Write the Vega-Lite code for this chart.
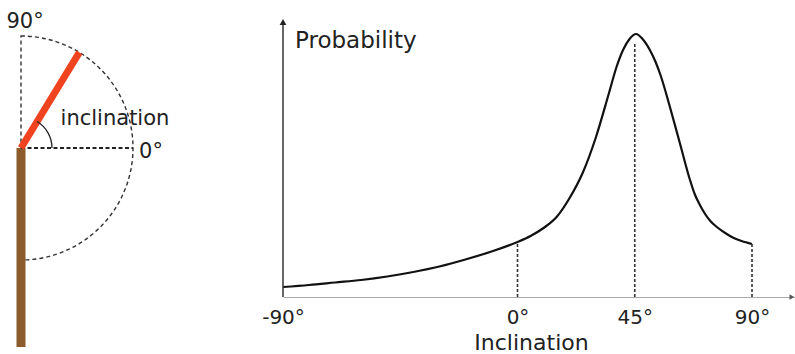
{
  "$schema": "https://vega.github.io/schema/vega-lite/v6.json",
  "padding": 0,
  "background": "white",
  "bounds": "flush",
  "spacing": 13,
  "config": {"view": {"stroke": null}, "font": "DejaVu Sans"},
  "datasets": {
    "origin": [{"x": 0, "y": 0}],
    "branch": [{"x": 0, "y": 0, "x2": 0, "y2": -1.777}],
    "shoot": [{"x": 0, "y": 0, "x2": 0.521, "y2": 0.854}],
    "zeroLine": [{"x": 0, "y": 0, "x2": 1.0, "y2": 0}],
    "leftLabels": [
      {"x": 0.036, "y": 1.071, "label": "90°"},
      {"x": 0.839, "y": 0.205, "label": "inclination"},
      {"x": 1.161, "y": -0.089, "label": "0°"}
    ],
    "curve": [
      {"inclination": -90, "p": 0.10},
      {"inclination": -80, "p": 0.12},
      {"inclination": -70, "p": 0.145},
      {"inclination": -60, "p": 0.17},
      {"inclination": -50, "p": 0.205},
      {"inclination": -40, "p": 0.25},
      {"inclination": -30, "p": 0.305},
      {"inclination": -20, "p": 0.375},
      {"inclination": -10, "p": 0.455},
      {"inclination": 0, "p": 0.55},
      {"inclination": 5, "p": 0.61},
      {"inclination": 10, "p": 0.69},
      {"inclination": 15, "p": 0.80},
      {"inclination": 20, "p": 0.99},
      {"inclination": 25, "p": 1.24},
      {"inclination": 30, "p": 1.59},
      {"inclination": 35, "p": 2.03},
      {"inclination": 38, "p": 2.30},
      {"inclination": 40.5, "p": 2.47},
      {"inclination": 43, "p": 2.58},
      {"inclination": 45.5, "p": 2.63},
      {"inclination": 48, "p": 2.58},
      {"inclination": 51, "p": 2.46},
      {"inclination": 53, "p": 2.35},
      {"inclination": 55, "p": 2.21},
      {"inclination": 58.5, "p": 1.90},
      {"inclination": 62.3, "p": 1.54},
      {"inclination": 66.2, "p": 1.17},
      {"inclination": 68, "p": 1.03},
      {"inclination": 70, "p": 0.92},
      {"inclination": 72, "p": 0.83},
      {"inclination": 74, "p": 0.76},
      {"inclination": 76.5, "p": 0.70},
      {"inclination": 80, "p": 0.635},
      {"inclination": 83, "p": 0.59},
      {"inclination": 86, "p": 0.56},
      {"inclination": 90, "p": 0.53}
    ],
    "drops": [
      {"inclination": 0, "p0": 0, "p": 0.55},
      {"inclination": 45, "p0": 0, "p": 2.54},
      {"inclination": 90, "p0": 0, "p": 0.53}
    ],
    "yAxisLine": [{"inclination": -90, "p": 0, "p2": 2.72}],
    "yArrow": [{"inclination": -90, "p": 2.75}],
    "xArrow": [{"inclination": 105.3, "p": 0}],
    "yTitle": [{"inclination": -85.4, "p": 2.49, "label": "Probability"}]
  },
  "hconcat": [
    {
      "width": 270,
      "height": 354,
      "layer": [
        {
          "data": {"name": "origin"},
          "mark": {"type": "arc", "filled": false, "fill": "none", "stroke": "#333333", "strokeWidth": 1.4, "strokeDash": [4, 3]},
          "encoding": {
            "x": {"field": "x", "type": "quantitative", "scale": {"domain": [-0.1875, 2.2232], "nice": false, "zero": false}, "axis": null},
            "y": {"field": "y", "type": "quantitative", "scale": {"domain": [-1.8393, 1.3214], "nice": false, "zero": false}, "axis": null},
            "theta": {"value": 0},
            "theta2": {"value": 3.14159},
            "radius": {"value": 112},
            "radius2": {"value": 0}
          }
        },
        {
          "data": {"name": "branch"},
          "mark": {"type": "rule", "color": "#8C5C2C", "strokeWidth": 9, "strokeCap": "butt"},
          "encoding": {
            "x": {"field": "x", "type": "quantitative", "scale": {"domain": [-0.1875, 2.2232], "nice": false, "zero": false}, "axis": null},
            "y": {"field": "y", "type": "quantitative", "scale": {"domain": [-1.8393, 1.3214], "nice": false, "zero": false}, "axis": null},
            "x2": {"field": "x2"},
            "y2": {"field": "y2"}
          }
        },
        {
          "data": {"name": "zeroLine"},
          "mark": {"type": "rule", "color": "#222222", "strokeWidth": 1.8, "strokeDash": [4, 2.5]},
          "encoding": {
            "x": {"field": "x", "type": "quantitative", "scale": {"domain": [-0.1875, 2.2232], "nice": false, "zero": false}, "axis": null},
            "y": {"field": "y", "type": "quantitative", "scale": {"domain": [-1.8393, 1.3214], "nice": false, "zero": false}, "axis": null},
            "x2": {"field": "x2"},
            "y2": {"field": "y2"}
          }
        },
        {
          "data": {"name": "shoot"},
          "mark": {"type": "rule", "color": "#F0431F", "strokeWidth": 7, "strokeCap": "butt"},
          "encoding": {
            "x": {"field": "x", "type": "quantitative", "scale": {"domain": [-0.1875, 2.2232], "nice": false, "zero": false}, "axis": null},
            "y": {"field": "y", "type": "quantitative", "scale": {"domain": [-1.8393, 1.3214], "nice": false, "zero": false}, "axis": null},
            "x2": {"field": "x2"},
            "y2": {"field": "y2"}
          }
        },
        {
          "data": {"name": "origin"},
          "mark": {"type": "arc", "filled": false, "fill": "none", "stroke": "#222222", "strokeWidth": 1.3},
          "encoding": {
            "x": {"field": "x", "type": "quantitative", "scale": {"domain": [-0.1875, 2.2232], "nice": false, "zero": false}, "axis": null},
            "y": {"field": "y", "type": "quantitative", "scale": {"domain": [-1.8393, 1.3214], "nice": false, "zero": false}, "axis": null},
            "theta": {"value": 0.548},
            "theta2": {"value": 1.5708},
            "radius": {"value": 31},
            "radius2": {"value": 31}
          }
        },
        {
          "data": {"name": "leftLabels"},
          "mark": {"type": "text", "fontSize": 21, "align": "center", "baseline": "alphabetic", "color": "#222222"},
          "encoding": {
            "x": {"field": "x", "type": "quantitative", "scale": {"domain": [-0.1875, 2.2232], "nice": false, "zero": false}, "axis": null},
            "y": {"field": "y", "type": "quantitative", "scale": {"domain": [-1.8393, 1.3214], "nice": false, "zero": false}, "axis": null},
            "text": {"field": "label"}
          }
        }
      ]
    },
    {
      "width": 512,
      "height": 297,
      "layer": [
        {
          "data": {"name": "curve"},
          "mark": {"type": "line", "color": "#111111", "strokeWidth": 2.2, "interpolate": "monotone"},
          "encoding": {
            "x": {
              "field": "inclination", "type": "quantitative",
              "scale": {"domain": [-90, 106.5], "nice": false, "zero": false},
              "axis": {
                "values": [-90, 0, 45, 90],
                "labelExpr": "datum.value + '°'",
                "labelFlush": false,
                "labelAlign": "center",
                "ticks": false, "grid": false,
                "domain": true, "domainColor": "#aaaaaa", "domainWidth": 1.2,
                "labelFontSize": 20, "labelColor": "#222222", "labelPadding": 10, "labelDx": 7,
                "labelFont": "DejaVu Sans",
                "title": "Inclination", "titleFontSize": 22, "titleFontWeight": "normal", "titleColor": "#222222",
                "titleFont": "DejaVu Sans", "titleX": 248, "titleY": 35, "titleBaseline": "top"
              }
            },
            "y": {"field": "p", "type": "quantitative", "scale": {"domain": [0, 2.97], "nice": false, "zero": false}, "axis": null}
          }
        },
        {
          "data": {"name": "drops"},
          "mark": {"type": "rule", "color": "#333333", "strokeWidth": 1.6, "strokeDash": [3, 2]},
          "encoding": {
            "x": {"field": "inclination", "type": "quantitative", "scale": {"domain": [-90, 106.5], "nice": false, "zero": false}},
            "y": {"field": "p0", "type": "quantitative", "scale": {"domain": [0, 2.97], "nice": false, "zero": false}},
            "y2": {"field": "p"}
          }
        },
        {
          "data": {"name": "yAxisLine"},
          "mark": {"type": "rule", "color": "#333333", "strokeWidth": 1.5},
          "encoding": {
            "x": {"field": "inclination", "type": "quantitative", "scale": {"domain": [-90, 106.5], "nice": false, "zero": false}},
            "y": {"field": "p", "type": "quantitative", "scale": {"domain": [0, 2.97], "nice": false, "zero": false}},
            "y2": {"field": "p2"}
          }
        },
        {
          "data": {"name": "yArrow"},
          "mark": {"type": "point", "shape": "triangle-up", "filled": true, "color": "#222222", "size": 45, "opacity": 1},
          "encoding": {
            "x": {"field": "inclination", "type": "quantitative", "scale": {"domain": [-90, 106.5], "nice": false, "zero": false}},
            "y": {"field": "p", "type": "quantitative", "scale": {"domain": [0, 2.97], "nice": false, "zero": false}}
          }
        },
        {
          "data": {"name": "xArrow"},
          "mark": {"type": "point", "shape": "triangle-right", "filled": true, "color": "#555555", "size": 30, "opacity": 1},
          "encoding": {
            "x": {"field": "inclination", "type": "quantitative", "scale": {"domain": [-90, 106.5], "nice": false, "zero": false}},
            "y": {"field": "p", "type": "quantitative", "scale": {"domain": [0, 2.97], "nice": false, "zero": false}}
          }
        },
        {
          "data": {"name": "yTitle"},
          "mark": {"type": "text", "fontSize": 23, "align": "left", "baseline": "alphabetic", "color": "#222222"},
          "encoding": {
            "x": {"field": "inclination", "type": "quantitative", "scale": {"domain": [-90, 106.5], "nice": false, "zero": false}},
            "y": {"field": "p", "type": "quantitative", "scale": {"domain": [0, 2.97], "nice": false, "zero": false}},
            "text": {"field": "label"}
          }
        }
      ]
    }
  ]
}
